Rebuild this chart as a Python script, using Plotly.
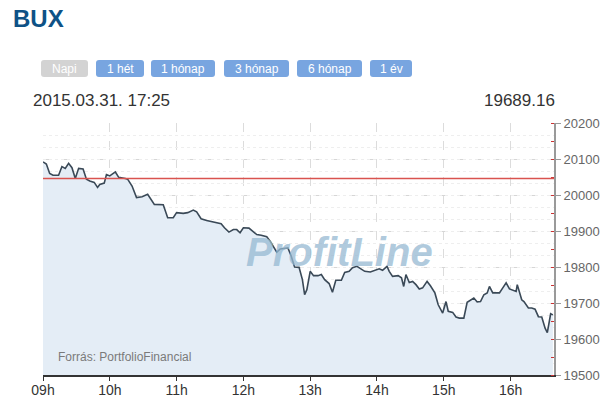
import plotly.graph_objects as go

# BUX intraday, 2015.03.31
times = ["09:00", "09:03", "09:06", "09:09", "09:14", "09:17", "09:20", "09:23",
         "09:26", "09:29", "09:32", "09:36", "09:39", "09:42", "09:46", "09:49",
         "09:51", "09:55", "09:57", "10:00", "10:05", "10:08", "10:14", "10:16",
         "10:20", "10:24", "10:29", "10:34", "10:40", "10:48", "10:52", "10:57",
         "11:00", "11:06", "11:10", "11:15", "11:18", "11:22", "11:27", "11:33",
         "11:40", "11:43", "11:47", "11:51", "11:54", "11:57", "12:00", "12:05",
         "12:09", "12:12", "12:16", "12:21", "12:24", "12:27", "12:30", "12:33",
         "12:37", "12:40", "12:43", "12:46", "12:50", "12:53", "12:55", "12:57",
         "13:00", "13:03", "13:07", "13:10", "13:13", "13:17", "13:20", "13:23",
         "13:28", "13:31", "13:35", "13:38", "13:42", "13:45", "13:49", "13:54",
         "13:59", "14:02", "14:05", "14:09", "14:11", "14:14", "14:19", "14:22",
         "14:24", "14:26", "14:29", "14:32", "14:35", "14:38", "14:41", "14:45",
         "14:48", "14:52", "14:55", "14:59", "15:02", "15:04", "15:08", "15:11",
         "15:14", "15:18", "15:21", "15:24", "15:27", "15:30", "15:33", "15:36",
         "15:39", "15:41", "15:44", "15:47", "15:50", "15:53", "15:56", "15:59",
         "16:03", "16:05", "16:06", "16:10", "16:12", "16:16", "16:19", "16:22",
         "16:25", "16:28", "16:31", "16:33", "16:36", "16:38"]
values = [20092, 20086, 20060, 20055, 20055, 20079, 20074, 20088,
          20076, 20046, 20074, 20072, 20044, 20039, 20035, 20021,
          20029, 20033, 20057, 20053, 20064, 20049, 20046, 20044,
          20025, 19993, 19995, 20002, 19974, 19973, 19937, 19937,
          19951, 19949, 19951, 19958, 19953, 19934, 19929, 19925,
          19920, 19909, 19897, 19904, 19904, 19895, 19909, 19908,
          19898, 19890, 19888, 19884, 19872, 19858, 19841, 19850,
          19852, 19853, 19830, 19800, 19799, 19765, 19723, 19737,
          19788, 19776, 19776, 19779, 19765, 19754, 19730, 19763,
          19763, 19785, 19788, 19798, 19802, 19795, 19788, 19786,
          19791, 19795, 19791, 19802, 19788, 19774, 19776, 19770,
          19746, 19779, 19757, 19760, 19751, 19739, 19742, 19760,
          19748, 19728, 19695, 19672, 19704, 19677, 19674, 19661,
          19658, 19658, 19702, 19707, 19714, 19703, 19704, 19723,
          19728, 19746, 19728, 19728, 19728, 19742, 19756, 19739,
          19735, 19732, 19751, 19709, 19704, 19686, 19686, 19683,
          19662, 19661, 19630, 19618, 19670, 19667]
prev_close = 20046

buttons = ["Napi", "1 hét", "1 hónap", "3 hónap", "6 hónap", "1 év"]
button_left = [41, 96, 151, 224, 297, 370]
button_right = [88, 144, 215, 289, 362, 412]

y_ticks = [19500, 19600, 19700, 19800, 19900, 20000, 20100, 20200]

day = "2015-03-31 "
xs = [day + t for t in times]

# the page body has an 8px margin, so the figure is made smaller
OFF = 8
W, H = 609 - 2 * OFF, 407 - 2 * OFF
# plot box in page pixels
L, R, T, B = 43, 554, 123, 375


def px(x):
    return (x - L) / (R - L)


def py(y):
    return (B - y) / (B - T)


def rounded(x0, x1, y0, y1, r=3):
    # rounded rectangle path in paper coords (page pixels in)
    pts = [(x0 + r, y0), (x1 - r, y0), (x1, y0 + r), (x1, y1 - r),
           (x1 - r, y1), (x0 + r, y1), (x0, y1 - r), (x0, y0 + r)]
    p = ["M {:.5f},{:.5f}".format(px(pts[0][0]), py(pts[0][1]))]
    for i, (x, y) in enumerate(pts[1:], 1):
        if i % 2 == 1:
            p.append("L {:.5f},{:.5f}".format(px(x), py(y)))
        else:
            cx = x1 if x > (x0 + x1) / 2 else x0
            cy = y0 if y < (y0 + y1) / 2 else y1
            p.append("Q {:.5f},{:.5f} {:.5f},{:.5f}".format(px(cx), py(cy), px(x), py(y)))
    p.append("Q {:.5f},{:.5f} {:.5f},{:.5f} Z".format(px(x0), py(y0), px(pts[0][0]), py(pts[0][1])))
    return " ".join(p)


fig = go.Figure()

fig.add_trace(go.Scatter(
    x=xs, y=values, mode="lines",
    line=dict(color="#3a4957", width=1.6),
    fill="tozeroy", fillcolor="#e4edf6",
    hoverinfo="skip", showlegend=False))

# faint extra grid
fig.add_trace(go.Scatter(x=[xs[0]], y=[values[0]], yaxis="y2",
                         mode="markers", marker=dict(opacity=0),
                         hoverinfo="skip", showlegend=False))

shapes = [dict(type="line", xref="paper", yref="y", x0=0, x1=1,
               y0=prev_close, y1=prev_close,
               line=dict(color="#d9534f", width=1.5), layer="above")]
annotations = []
for name, x0, x1 in zip(buttons, button_left, button_right):
    col = "#d3d3d3" if name == "Napi" else "#78a5e0"
    shapes.append(dict(type="path", xref="paper", yref="paper",
                       path=rounded(x0, x1, 60, 77),
                       fillcolor=col, line=dict(width=0), layer="above"))
    annotations.append(dict(text=name, xref="paper", yref="paper",
                            x=px((x0 + x1) / 2), y=py(68.5),
                            xanchor="center", yanchor="middle", showarrow=False,
                            font=dict(size=12, color="white",
                                      family="Liberation Sans")))

annotations += [
    dict(text="<b>BUX</b>", xref="paper", yref="paper", x=px(11), y=py(19),
         xanchor="left", yanchor="middle", showarrow=False,
         font=dict(size=24, color="#0e5286", family="Liberation Sans")),
    dict(text="2015.03.31. 17:25", xref="paper", yref="paper", x=px(31), y=py(100),
         xanchor="left", yanchor="middle", showarrow=False,
         font=dict(size=17, color="#333333", family="Liberation Sans")),
    dict(text="19689.16", xref="paper", yref="paper", x=px(557), y=py(100),
         xanchor="right", yanchor="middle", showarrow=False,
         font=dict(size=17, color="#333333", family="Liberation Sans")),
    dict(text="<b><i>ProfitLine</i></b>", xref="paper", yref="paper",
         x=px(339), y=py(252), xanchor="center", yanchor="middle",
         showarrow=False,
         font=dict(size=40, color="rgba(150,185,210,0.75)",
                   family="Liberation Sans")),
    dict(text="Forrás: PortfolioFinancial", xref="paper", yref="paper",
         x=px(56), y=py(357), xanchor="left", yanchor="middle", showarrow=False,
         font=dict(size=12, color="#7a7a7a", family="Liberation Sans")),
]

fig.update_layout(
    width=W, height=H,
    margin=dict(l=L - OFF, r=W - (R - OFF), t=T - OFF, b=H - (B - OFF)),
    paper_bgcolor="white", plot_bgcolor="white",
    shapes=shapes, annotations=annotations,
    xaxis=dict(
        type="date", range=[day + "09:00", day + "16:39"],
        dtick=3600000, tick0=day + "09:00", tickformat="%Hh",
        showgrid=True, gridcolor="#dcdcdc", griddash="dash", gridwidth=1,
        showline=True, linecolor="#333333", linewidth=2,
        ticks="outside", ticklen=4, tickcolor="#333333",
        ticklabelstandoff=-3,
        tickfont=dict(size=14, color="#333333", family="Liberation Sans"),
        zeroline=False, fixedrange=True, automargin=False),
    yaxis=dict(
        side="right", range=[19500, 20200], tickvals=y_ticks, tickformat="d",
        showgrid=True, gridcolor="#d6d6d6", griddash="dash", gridwidth=1,
        showline=True, linecolor="#9a9a9a", linewidth=2,
        ticks="outside", ticklen=5, tickcolor="#9a9a9a",
        tickfont=dict(size=13, color="#666666", family="Liberation Sans"),
        minor=dict(dtick=50, ticks="inside", ticklen=3, tickcolor="#cc3333",
                   showgrid=False),
        zeroline=False, fixedrange=True, automargin=False),
    yaxis2=dict(
        overlaying="y", side="left", range=[19500, 20200],
        dtick=100 / 3, tick0=19500, showgrid=True, gridcolor="#eeeeee",
        griddash="dot", showticklabels=False, showline=False, zeroline=False,
        fixedrange=True, automargin=False),
)

fig.write_html("out.html")
